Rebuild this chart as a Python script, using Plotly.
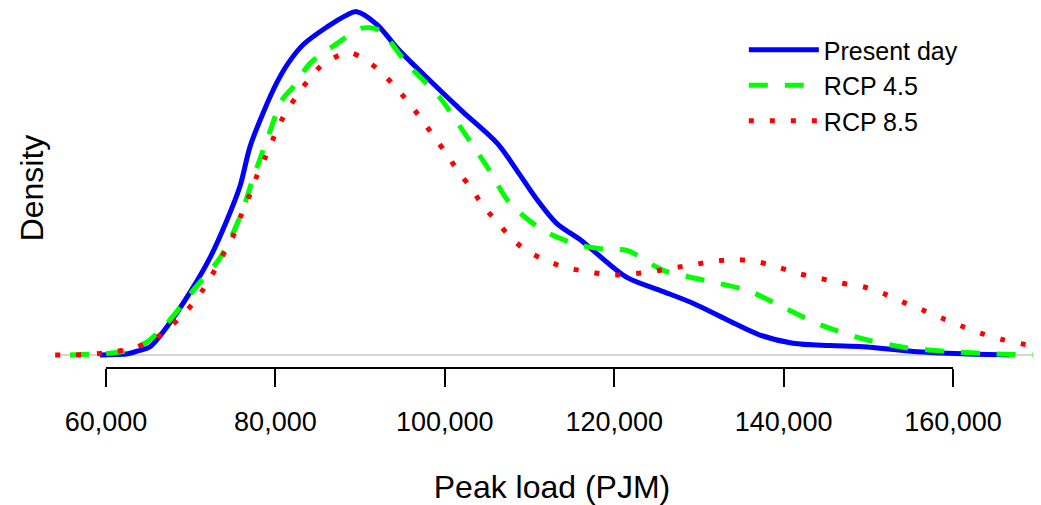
import plotly.graph_objects as go

# density curves (density in units of 1e-5)
present_x = [59300, 62600, 64000, 65200, 67200, 69900, 72300, 74300, 75800, 77000,
             78500, 80200, 81500, 83300, 86100, 88400, 89600, 92000, 94500, 98300,
             102100, 106200, 108500, 110900, 113200, 116000, 117500, 121500, 125400, 129300,
             133300, 137200, 141100, 145500, 149400, 155300, 161200, 166700]
present_y = [0, 0.01, 0.04, 0.07, 0.24, 0.53, 0.83, 1.15, 1.43, 1.77,
             2.05, 2.32, 2.48, 2.64, 2.79, 2.89, 2.92, 2.81, 2.60, 2.33,
             2.07, 1.80, 1.57, 1.32, 1.12, 0.98, 0.89, 0.66, 0.55, 0.44,
             0.30, 0.17, 0.10, 0.08, 0.07, 0.03, 0.01, 0]

rcp45_x = [55750, 62000, 64600, 67200, 70300, 73500, 75800, 77400, 79000, 80800,
           82100, 84100, 87300, 90200, 92300, 95500, 99400, 102100, 105000,
           107700, 111600, 115600, 118900, 121500, 125800, 131000, 135700, 140400, 144600,
           149800, 154600, 159600, 164700, 170400]
rcp45_y = [0, 0.03, 0.10, 0.27, 0.55, 0.83, 1.17, 1.51, 1.83, 2.17,
           2.28, 2.48, 2.65, 2.78, 2.76, 2.48, 2.19, 1.91, 1.60,
           1.29, 1.06, 0.94, 0.90, 0.89, 0.72, 0.63, 0.55, 0.39, 0.25,
           0.13, 0.06, 0.03, 0.01, 0]

rcp85_x = [54000, 56200, 58700, 61200, 63700, 66000, 67900, 69700, 71300, 72600,
           73800, 75000, 75900, 76900, 77800, 78800, 79800, 80900, 82300, 83700,
           85400, 87600, 88800, 90200, 92100, 93900, 95700, 97200, 98700, 100100,
           101600, 103100, 104500, 106200, 107900, 109800, 112100, 114400, 116900, 119400,
           122000, 124500, 126900, 129500, 132000, 134600, 137100, 139600, 141900, 144400,
           146900, 149400, 151900, 154100, 156500, 158800, 161200, 163500, 165900, 168500,
           170400, 175000, 180000]
rcp85_y = [0, 0, 0.01, 0.03, 0.07, 0.15, 0.26, 0.39, 0.54, 0.69,
           0.85, 1.01, 1.18, 1.35, 1.52, 1.68, 1.85, 2.02, 2.18, 2.32,
           2.46, 2.55, 2.57, 2.53, 2.43, 2.30, 2.15, 2.01, 1.86, 1.72,
           1.56, 1.42, 1.27, 1.13, 0.99, 0.88, 0.80, 0.74, 0.71, 0.68,
           0.69, 0.71, 0.74, 0.77, 0.80, 0.81, 0.79, 0.74, 0.69, 0.65,
           0.61, 0.58, 0.52, 0.45, 0.38, 0.31, 0.24, 0.18, 0.13, 0.09,
           0.07, 0.03, 0]

tick_vals = [60000, 80000, 100000, 120000, 140000, 160000]

FONT = "Arial, Liberation Sans, sans-serif"

fig = go.Figure()
fig.add_trace(go.Scatter(x=present_x, y=present_y, name="Present day", mode="lines",
                         line=dict(color="#0000ff", width=5, shape="spline", smoothing=0.9),
                         legendgroup="a"))
fig.add_trace(go.Scatter(x=rcp45_x, y=rcp45_y, name="RCP 4.5", mode="lines",
                         line=dict(color="#00ff00", width=5, dash="19px,17px",
                                   shape="spline", smoothing=0.8),
                         legendgroup="b"))
fig.add_trace(go.Scatter(x=rcp85_x, y=rcp85_y, name="RCP 8.5", mode="lines",
                         line=dict(color="#ff0000", width=5, dash="5px,16px",
                                   shape="spline", smoothing=0.8),
                         legendgroup="c"))

# baseline and R-style axis line spanning only the ticks
fig.add_shape(type="line", xref="paper", yref="y", x0=0, x1=1, y0=0, y1=0,
              line=dict(color="#c8c8c8", width=1.5), layer="below")
fig.add_shape(type="line", xref="x", yref="paper", x0=tick_vals[0], x1=tick_vals[-1],
              y0=0, y1=0, line=dict(color="black", width=2))

# cropped panel label at the top-left corner
fig.add_annotation(text="nd", xref="paper", yref="paper", x=-0.056, y=0.982,
                   xanchor="left", yanchor="bottom", showarrow=False,
                   font=dict(family=FONT, size=27, color="black"))

fig.update_layout(
    width=1041, height=505,
    margin=dict(l=47, r=0, t=0, b=145),
    plot_bgcolor="white", paper_bgcolor="white",
    font=dict(family=FONT, size=27, color="black"),
    showlegend=True,
    legend=dict(x=0.693, y=0.947, xanchor="left", yanchor="top",
                itemwidth=70, tracegroupgap=0, bgcolor="rgba(0,0,0,0)",
                font=dict(size=25)),
    xaxis=dict(range=[53980, 171330], showgrid=False, zeroline=False, showline=False,
               automargin=False,
               tickvals=tick_vals, tickformat=",", ticks="outside", ticklen=18,
               tickwidth=2, tickcolor="black", ticklabelstandoff=12,
               tickfont=dict(size=27),
               title=dict(text="Peak load (PJM)", standoff=39)),
    yaxis=dict(range=[-0.1105, 2.951], showgrid=False, zeroline=False, showline=False,
               automargin=False, showticklabels=False, ticks="",
               title=dict(text="Density", standoff=0)),
)

fig.write_html("out.html")
